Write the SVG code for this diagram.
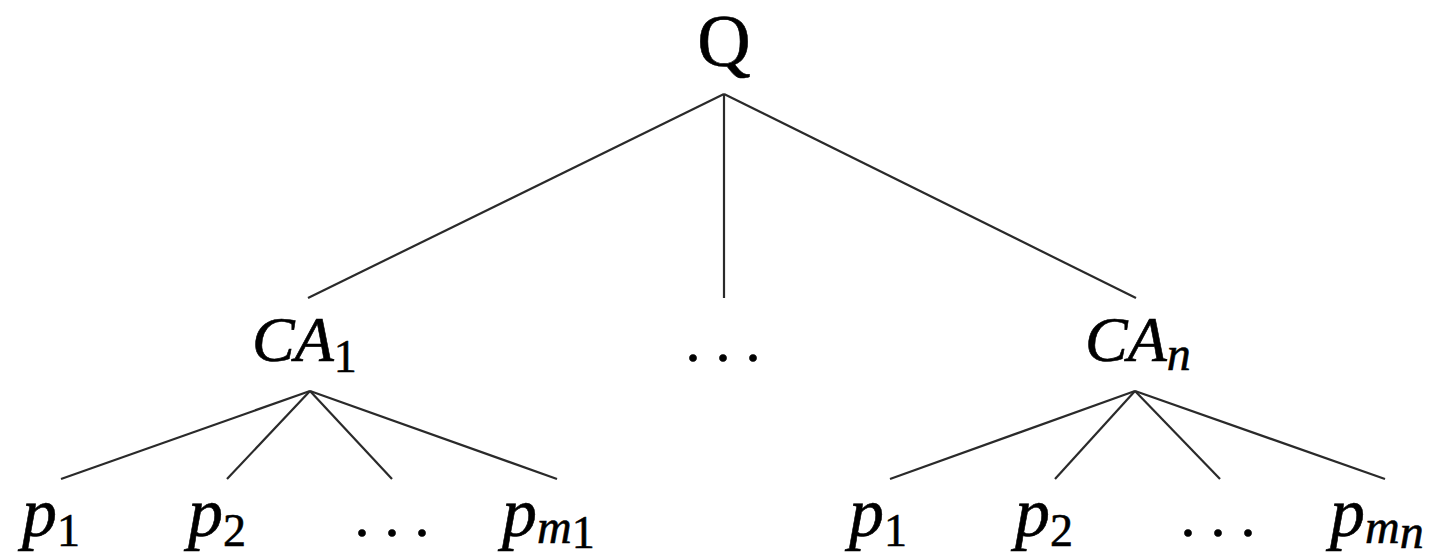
<svg xmlns="http://www.w3.org/2000/svg" width="1442" height="558" viewBox="0 0 1442 558">
<style>
text{font-family:"Liberation Serif","Times New Roman",serif;fill:#000;stroke:#000;stroke-width:0.6}
.it{font-style:italic}
.ca{font-size:64px}
.p{font-size:70px}
.dots{font-size:60px;font-style:normal}
.sub{font-size:46px;font-style:normal}
.subi{font-size:48px;font-style:italic}
.c line{stroke:#2a2a2a;stroke-width:2.2;fill:none}
</style>
<rect width="1442" height="558" fill="#fff"/>
<g class="c" id="connectors">
<line x1="724" y1="94" x2="308" y2="298"/>
<line x1="724" y1="94" x2="724" y2="298"/>
<line x1="724" y1="94" x2="1136" y2="298"/>
<line x1="310" y1="391" x2="61" y2="479"/>
<line x1="310" y1="391" x2="227" y2="479"/>
<line x1="310" y1="391" x2="392" y2="479"/>
<line x1="310" y1="391" x2="557" y2="479"/>
<line x1="1135" y1="391" x2="890" y2="479"/>
<line x1="1135" y1="391" x2="1055" y2="479"/>
<line x1="1135" y1="391" x2="1220" y2="479"/>
<line x1="1135" y1="391" x2="1385" y2="479"/>
</g>
<g id="Q"><text x="724" y="66" text-anchor="middle" font-size="74">Q</text></g>
<g id="CA1"><text x="252" y="361" class="ca it">CA<tspan class="sub" dy="11">1</tspan></text></g>
<g id="dots_mid"><text x="723" y="361" text-anchor="middle" class="dots">. . .</text></g>
<g id="CAn"><text x="1085" y="361" class="ca it">CA<tspan class="subi" font-size="44" dy="9">n</tspan></text></g>
<g id="l_p1"><text x="22" y="536" class="p it">p<tspan class="sub" dy="10">1</tspan></text></g>
<g id="l_p2"><text x="188" y="536" class="p it">p<tspan class="sub" dy="10">2</tspan></text></g>
<g id="l_dots"><text x="392" y="536" text-anchor="middle" class="dots">. . .</text></g>
<g id="l_pm"><text x="502" y="536" class="p it">p<tspan class="subi" dy="7">m<tspan class="sub" font-size="32" dy="5">1</tspan></tspan></text></g>
<g id="r_p1"><text x="849" y="536" class="p it">p<tspan class="sub" dy="10">1</tspan></text></g>
<g id="r_p2"><text x="1015" y="536" class="p it">p<tspan class="sub" dy="10">2</tspan></text></g>
<g id="r_dots"><text x="1218" y="536" text-anchor="middle" class="dots">. . .</text></g>
<g id="r_pm"><text x="1330" y="536" class="p it">p<tspan class="subi" dy="7">m<tspan class="subi" font-size="32" dy="5">n</tspan></tspan></text></g>
</svg>
